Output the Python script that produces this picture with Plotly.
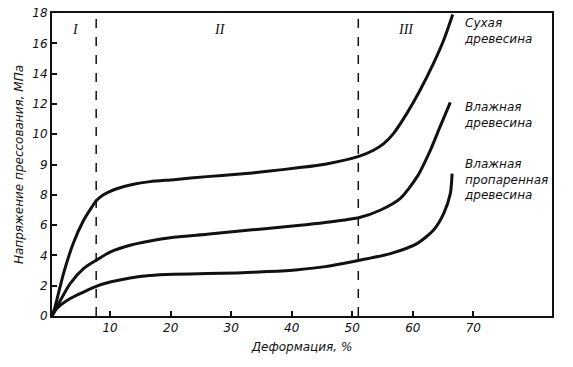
import plotly.graph_objects as go

# Data (y in axis units where ticks are every 2 units)
dry_x = [0.4, 0.9, 2.3, 3.9, 5.6, 7.0, 7.7, 8.9, 11.1, 13.85, 16.6, 20.5, 26, 31, 36, 41, 45.5, 51.2, 53.5, 55.2, 56.8, 59.0, 61.2, 63.4, 65.1, 66.6]
dry_y = [0.0, 0.6, 2.8, 4.78, 6.3, 7.2, 7.6, 8.0, 8.4, 8.7, 8.87, 9.0, 9.2, 9.35, 9.55, 9.78, 10.02, 10.55, 10.94, 11.38, 12.04, 13.36, 14.9, 16.66, 18.2, 19.9]

wet_x = [0.4, 0.9, 3.4, 5.6, 7.7, 10.0, 13.3, 16.6, 20.5, 26, 31, 36, 41, 45.5, 51.2, 54.6, 57.9, 60.7, 62.9, 64.5, 66.2]
wet_y = [0.0, 0.38, 2.14, 3.13, 3.68, 4.22, 4.67, 4.95, 5.2, 5.4, 5.6, 5.78, 5.97, 6.17, 6.5, 6.98, 7.75, 9.18, 10.94, 12.48, 14.1]

steam_x = [0.4, 1.2, 3.4, 5.6, 7.7, 10.0, 13.3, 16.6, 20.5, 26, 31, 36, 41, 45.5, 51.2, 56.3, 60.7, 63.4, 65.1, 66.2, 66.5]
steam_y = [0.0, 0.49, 1.15, 1.58, 1.96, 2.24, 2.51, 2.67, 2.75, 2.8, 2.84, 2.93, 3.06, 3.26, 3.68, 4.12, 4.78, 5.66, 6.76, 8.08, 9.4]

curve_labels = ["Сухая<br>древесина", "Влажная<br>древесина", "Влажная<br>пропаренная<br>древесина"]
label_x = [68.2, 68.2, 68.2]
label_y = [19.95, 14.4, 10.6]

zone_names = ["I", "II", "III"]
zone_x = [4.2, 28.2, 58.8]
zone_y = [18.9, 18.9, 18.9]
boundaries = [7.7, 51.0]

x_ticks = [10, 20, 30, 40, 50, 60, 70]
y_tickvals = [0, 2, 4, 6, 8, 10, 12, 14, 16, 18, 20]
y_ticktext = ["0", "2", "4", "6", "8", "9", "10", "12", "14", "16", "18"]

FONT = "DejaVu Sans"
INK = "#111111"

fig = go.Figure()
for xs, ys in [(dry_x, dry_y), (wet_x, wet_y), (steam_x, steam_y)]:
    fig.add_trace(go.Scatter(x=xs, y=ys, mode="lines",
                             line=dict(color=INK, width=3, shape="spline", smoothing=0.7),
                             showlegend=False, hoverinfo="skip"))

for b in boundaries:
    fig.add_shape(type="line", x0=b, x1=b, y0=0, y1=20, xref="x", yref="y",
                  line=dict(color=INK, width=1.5, dash="dash"))

for t, x, y in zip(zone_names, zone_x, zone_y):
    fig.add_annotation(x=x, y=y, text=t, showarrow=False,
                       font=dict(family="Liberation Serif", size=14, color=INK, style="italic"))

for t, x, y in zip(curve_labels, label_x, label_y):
    fig.add_annotation(x=x, y=y, text=t, showarrow=False, xanchor="left", yanchor="top",
                       align="left",
                       font=dict(family=FONT, size=12, color=INK, style="italic"))

fig.update_xaxes(range=[0.4, 83], tickvals=x_ticks, ticks="inside", ticklen=5,
                 tickcolor=INK, tickwidth=1.5, automargin=False,
                 showline=True, linecolor=INK, linewidth=2, mirror=True,
                 showgrid=False, zeroline=False,
                 tickfont=dict(family=FONT, size=12, color=INK, style="italic"),
                 title=dict(text="Деформация, %", standoff=8,
                            font=dict(family=FONT, size=12, color=INK, style="italic")))
fig.update_yaxes(range=[0, 20], tickvals=y_tickvals, ticktext=y_ticktext, ticks="inside",
                 ticklen=5, tickcolor=INK, tickwidth=1.5, automargin=False,
                 showline=True, linecolor=INK, linewidth=2, mirror=True,
                 showgrid=False, zeroline=False,
                 tickfont=dict(family=FONT, size=12, color=INK, style="italic"),
                 title=dict(text="Напряжение прессования, МПа", standoff=6,
                            font=dict(family=FONT, size=12, color=INK, style="italic")))

fig.update_layout(width=573, height=367, margin=dict(l=52, r=21, t=13, b=51),
                  plot_bgcolor="white", paper_bgcolor="white")

fig.write_html("out.html", config={"displayModeBar": False},
               post_script="document.body.style.margin='0';")
